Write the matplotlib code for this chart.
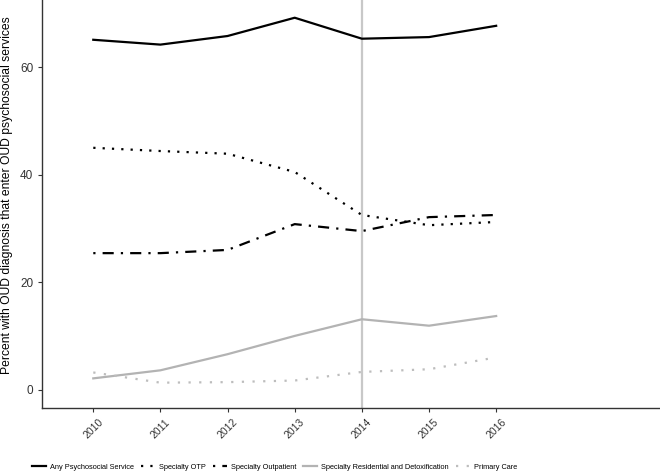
import numpy as np
import matplotlib.pyplot as plt

plt.rcParams['font.family'] = ['Liberation Sans', 'DejaVu Sans']

years = [2010, 2011, 2012, 2013, 2014, 2015, 2016]

any_service = [65.1, 64.2, 65.8, 69.2, 65.3, 65.6, 67.7]
specialty_otp = [45.0, 44.4, 43.9, 40.5, 32.5, 30.6, 31.2]
specialty_outpatient = [25.4, 25.4, 26.0, 30.8, 29.5, 32.1, 32.5]
specialty_residential = [2.1, 3.6, 6.6, 10.0, 13.1, 11.9, 13.7]
primary_care = [3.2, 1.3, 1.4, 1.7, 3.3, 3.8, 6.0]

SERIES = [
    ('Any Psychosocial Service', any_service, 'black', '-'),
    ('Specialty OTP', specialty_otp, 'black', (0, (1, 3.2))),
    ('Specialty Outpatient', specialty_outpatient, 'black', (0, (1, 3.2, 5, 3.2))),
    ('Specialty Residential and Detoxification', specialty_residential, '#b3b3b3', '-'),
    ('Primary Care', primary_care, '#bdbdbd', (0, (1, 3.8))),
]

fig = plt.figure(figsize=(6.6, 4.76), dpi=100)
ax = fig.add_axes([0.064, 0.143, 0.936, 0.857])

ax.axvline(2014, color='#c8c8c8', linewidth=1.6, zorder=1)

for label, values, color, ls in SERIES:
    ax.plot(years, values, color=color, linestyle=ls, linewidth=1.6,
            label=label, zorder=2)

ax.set_xlim(2009.24, 2018.44)
ax.set_ylim(-3.4, 72.5)
ax.set_xticks(years)
ax.set_xticklabels([str(y) for y in years], rotation=45, fontsize=7.5,
                   color='#333333')
ax.set_yticks([0, 20, 40, 60])
ax.tick_params(axis='y', labelsize=8.5, colors='#333333')
ax.tick_params(length=3, color='#333333')
ax.set_ylabel('Percent with OUD diagnosis that enter OUD psychosocial services',
              fontsize=8.7)
ax.yaxis.set_label_coords(-0.047, 0.522)

for side in ['top', 'right']:
    ax.spines[side].set_visible(False)
for side in ['left', 'bottom']:
    ax.spines[side].set_color('#333333')
    ax.spines[side].set_linewidth(1.0)

fig.legend(loc='center', bbox_to_anchor=(0.416, 0.019), ncol=5, frameon=False,
           fontsize=5.3, handlelength=1.9, handletextpad=0.6, columnspacing=0.9)

fig.savefig('out.png', dpi=100)
